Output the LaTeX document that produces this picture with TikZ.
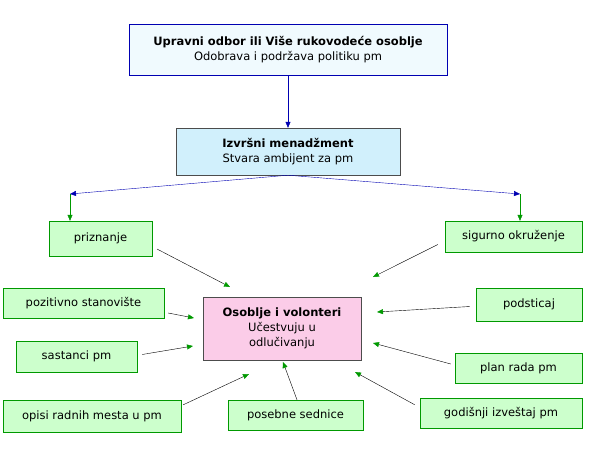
\documentclass[tikz,border=0pt]{standalone}
\usepackage{fontspec}
\setmainfont{DejaVu Sans}
\usetikzlibrary{arrows.meta}

\begin{document}
\begin{tikzpicture}[x=1pt, y=-1pt, font=\fontsize{11.5}{15}\selectfont]
    % Styles
    \tikzstyle{topbox} = [rectangle, draw=blue!70!black, fill=cyan!6, text centered, align=center]
    \tikzstyle{execbox} = [rectangle, draw=black!70, fill=cyan!18, text centered, align=center]
    \tikzstyle{leaf} = [rectangle, draw=green!60!black, fill=green!20, text centered, align=center]
    \tikzstyle{centre} = [rectangle, draw=black!70, fill=magenta!20, text centered, align=center]
    \tikzstyle{line} = [draw, -{Triangle[color=green!60!black, length=6pt, width=5pt]}]
    \tikzstyle{blueline} = [draw, blue!70!black, -{Triangle[length=6pt, width=5pt]}]

    \useasboundingbox (0,0) rectangle (600,456);

    % Nodes
    \node [topbox, minimum width=318pt, minimum height=51pt] (board) at (288,49.5) {\textbf{Upravni odbor ili Više rukovodeće osoblje}\\Odobrava i podržava politiku pm};
    \node [execbox, minimum width=224pt, minimum height=47pt] (exec) at (288,151.5) {\textbf{Izvršni menadžment}\\Stvara ambijent za pm};
    \node [centre, minimum width=158pt, minimum height=63pt] (staff) at (282,328.5) {\textbf{Osoblje i volonteri}\\Učestvuju u\\odlučivanju};

    \node [leaf, minimum width=103pt, minimum height=35pt] (recog) at (100.5,238.5) {priznanje};
    \node [leaf, minimum width=137pt, minimum height=31pt] (safe) at (513.5,236.5) {sigurno okruženje};
    \node [leaf, minimum width=161pt, minimum height=30pt] (attitude) at (83.5,303) {pozitivno stanovište};
    \node [leaf, minimum width=106pt, minimum height=33pt] (incent) at (529,304.5) {podsticaj};
    \node [leaf, minimum width=121pt, minimum height=31pt] (meet) at (76.5,356.5) {sastanci pm};
    \node [leaf, minimum width=127pt, minimum height=30pt] (plan) at (518.5,368) {plan rada pm};
    \node [leaf, minimum width=178pt, minimum height=32pt] (jobs) at (92,416) {opisi radnih mesta u pm};
    \node [leaf, minimum width=135pt, minimum height=30pt] (special) at (295.5,415) {posebne sednice};
    \node [leaf, minimum width=162pt, minimum height=30pt] (report) at (501,413) {godišnji izveštaj pm};

    \coordinate (splitl) at (70,194);
    \coordinate (splitr) at (520,194);

    % Connections
    \path [blueline] (board) -- (exec);
    \path [blueline] (exec.south) -- (splitl);
    \path [blueline] (exec.south) -- (splitr);
    \path [line, green!60!black] (splitl) -- (recog.north -| splitl);
    \path [line, green!60!black] (splitr) -- (safe.north -| splitr);

    \path [line] (157,249) -- (230,287);
    \path [line] (safe.west) ++(-7,8) -- (373,277);
    \path [line] (attitude.east) ++(4,10) -- (194,318);
    \path [line] (incent.west) ++(-6,2) -- (377,312);
    \path [line] (meet.east) ++(5,-2) -- (193,346);
    \path [line] (plan.west) ++(-4,-4) -- (373,343);
    \path [line] (jobs.north east) ++(2,5) -- (249,374);
    \path [line] (special.north) ++(1.5,0) -- (283,362);
    \path [line] (report.north west) ++(-5,7) -- (355,372);
\end{tikzpicture}
\end{document}
